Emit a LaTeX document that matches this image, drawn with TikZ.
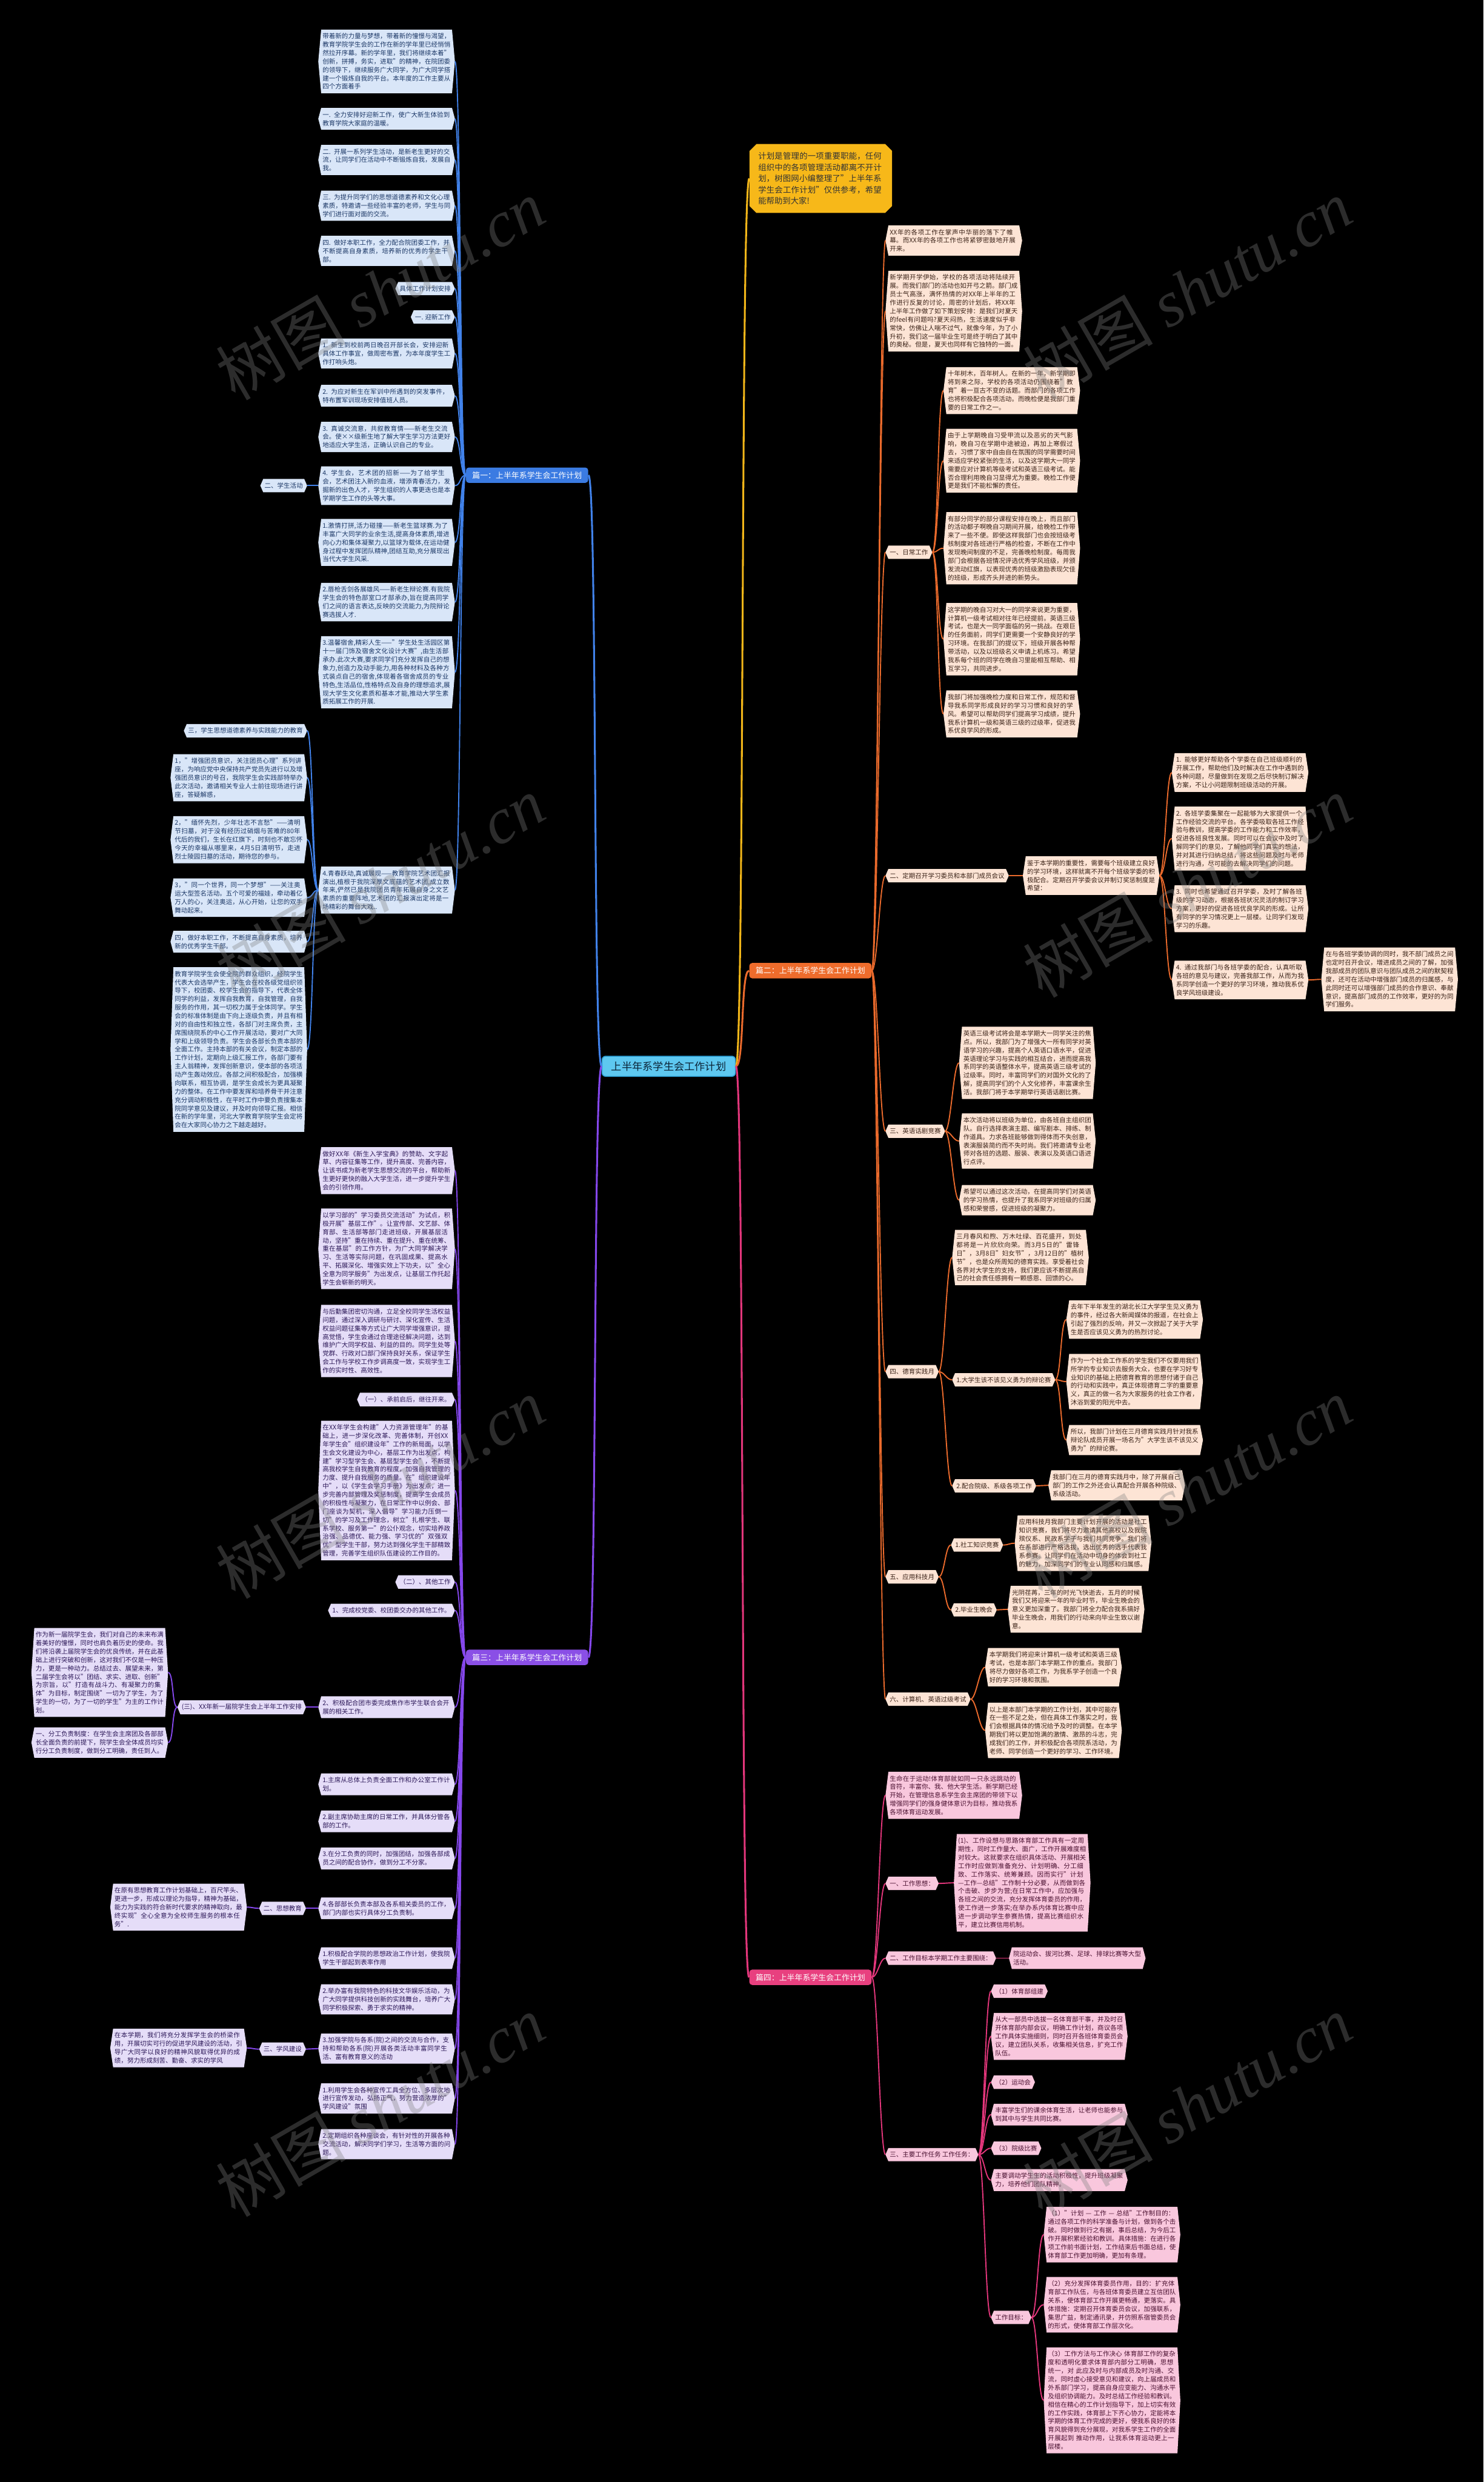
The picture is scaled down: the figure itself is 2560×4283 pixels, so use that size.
\documentclass[tikz,border=0pt]{standalone}
\usepackage{fontspec}
\setmainfont{Noto Sans CJK SC}
\newfontfamily\wmserif{Liberation Serif}
\usetikzlibrary{shapes.misc}
\XeTeXlinebreaklocale "zh"
\XeTeXlinebreakskip = 0pt plus 1pt
\definecolor{aF}{HTML}{D9E6F8}\definecolor{aT}{HTML}{1B3766}\definecolor{aL}{HTML}{4182EA}\definecolor{aB}{HTML}{3B7BE2}
\definecolor{bF}{HTML}{E5DDF8}\definecolor{bT}{HTML}{2C1858}\definecolor{bL}{HTML}{8547EC}\definecolor{bB}{HTML}{8A4FE6}
\definecolor{cF}{HTML}{FDE4D5}\definecolor{cT}{HTML}{3A2217}\definecolor{cL}{HTML}{EA6A2C}\definecolor{cB}{HTML}{EE6C2C}
\definecolor{dF}{HTML}{F9C7DD}\definecolor{dT}{HTML}{4A1030}\definecolor{dL}{HTML}{E3367B}\definecolor{dB}{HTML}{E8407F}
\definecolor{yF}{HTML}{F7B819}\definecolor{yT}{HTML}{333333}\definecolor{yL}{HTML}{F2B619}
\definecolor{kF}{HTML}{5EC8F0}\definecolor{kT}{HTML}{0B2336}\definecolor{kD}{HTML}{2B9FD6}
\makeatletter
\newdimen\hbxa \newdimen\hbxb \newdimen\hbya \newdimen\hbyb \newdimen\hbyc \newdimen\hbtip
\hbtip=2.5pt
\pgfdeclareshape{hexbox}{%
  \inheritsavedanchors[from=rectangle]%
  \inheritanchorborder[from=rectangle]%
  \inheritanchor[from=rectangle]{center}%
  \inheritanchor[from=rectangle]{north}%
  \inheritanchor[from=rectangle]{south}%
  \inheritanchor[from=rectangle]{north west}%
  \inheritanchor[from=rectangle]{north east}%
  \inheritanchor[from=rectangle]{south west}%
  \inheritanchor[from=rectangle]{south east}%
  \inheritanchor[from=rectangle]{base}%
  \inheritanchor[from=rectangle]{mid}%
  \anchor{west}{%
    \pgf@process{\northeast}\hbyb=\pgf@y
    \pgf@process{\southwest}%
    \pgf@y=.5\pgf@y \advance\pgf@y by .5\hbyb
    \advance\pgf@x by -\hbtip}%
  \anchor{east}{%
    \pgf@process{\southwest}\hbya=\pgf@y
    \pgf@process{\northeast}%
    \pgf@y=.5\pgf@y \advance\pgf@y by .5\hbya
    \advance\pgf@x by \hbtip}%
  \backgroundpath{%
    \pgf@process{\southwest}\hbxa=\pgf@x \hbya=\pgf@y
    \pgf@process{\northeast}\hbxb=\pgf@x \hbyb=\pgf@y
    \hbyc=.5\hbya \advance\hbyc by .5\hbyb
    \pgfpathmoveto{\pgfqpoint{\hbxa}{\hbya}}%
    \pgfpathlineto{\pgfqpoint{\hbxb}{\hbya}}%
    \pgfpathlineto{\pgfqpoint{\dimexpr\hbxb+\hbtip\relax}{\hbyc}}%
    \pgfpathlineto{\pgfqpoint{\hbxb}{\hbyb}}%
    \pgfpathlineto{\pgfqpoint{\hbxa}{\hbyb}}%
    \pgfpathlineto{\pgfqpoint{\dimexpr\hbxa-\hbtip\relax}{\hbyc}}%
    \pgfpathclose}%
}
\makeatother
\tikzset{
  tb/.style={shape=hexbox, inner xsep=1pt, inner ysep=3pt, font=\fontsize{5.5}{7.25}\selectfont},
  wb/.style={tb, text width=110.5pt, align=left},
  sa/.style={fill=aF, text=aT}, sb/.style={fill=bF, text=bT},
  sc/.style={fill=cF, text=cT}, sd/.style={fill=dF, text=dT},
  la/.style={draw=aL, line width=1pt}, lb/.style={draw=bL, line width=1pt},
  lc/.style={draw=cL, line width=1pt}, ld/.style={draw=dL, line width=1pt},
  br/.style={shape=rectangle, rounded corners=2.5pt, inner xsep=5.5pt, inner ysep=3.5pt, font=\fontsize{6.75}{8}\selectfont, text=white},
  wm/.style={rotate=30, text=gray, opacity=0.35, font=\fontsize{56}{60}\selectfont}
}
\newcommand\Lcon[3]{\draw[#1] (#2.west) .. controls +(-10,0) and +(10,0) .. (#3.east);}
\newcommand\Rcon[3]{\draw[#1] (#2.east) .. controls +(10,0) and +(-10,0) .. (#3.west);}
\begin{document}
\begin{tikzpicture}[x=0.5pt,y=-0.5pt]
\useasboundingbox (0,0) rectangle (2560,4283);
\fill[black] (0,0) rectangle (2560,4283);

% ---------- centre and branches ----------
\node[shape=rectangle, rounded corners=3pt, fill=kF, draw=kD, line width=0.8pt, text=kT, font=\fontsize{9}{11}\selectfont, inner xsep=8pt, inner ysep=4.5pt] (ctr) at (1154,1840) {上半年系学生会工作计划};
\node[br, fill=aB] (N1) at (909.5,820) {篇一：上半年系学生会工作计划};
\node[br, fill=bB] (N3) at (909.5,2860) {篇三：上半年系学生会工作计划};
\node[br, fill=cB] (N2) at (1398.5,1675) {篇二：上半年系学生会工作计划};
\node[br, fill=dB] (N4) at (1398.5,3412) {篇四：上半年系学生会工作计划};
\node[shape=chamfered rectangle, chamfered rectangle xsep=3pt, chamfered rectangle ysep=3pt, fill=yF, text=yT, text width=108pt, align=left, inner xsep=4.5pt, inner ysep=4pt, font=\fontsize{7}{9.75}\selectfont, anchor=west] (intro) at (1293,308) {计划是管理的一项重要职能，任何组织中的各项管理活动都离不开计划，树图网小编整理了"上半年系学生会工作计划"仅供参考，希望能帮助到大家!};

\draw[aL, line width=1.6pt] (ctr.west) .. controls +(-15,0) and +(15,0) .. (N1.east);
\draw[bL, line width=1.6pt] (ctr.west) .. controls +(-15,0) and +(15,0) .. (N3.east);
\draw[yL, line width=1.6pt] (ctr.east) .. controls +(15,0) and +(-15,0) .. (intro.west);
\draw[cL, line width=1.6pt] (ctr.east) .. controls +(15,0) and +(-15,0) .. (N2.west);
\draw[dL, line width=1.6pt] (ctr.east) .. controls +(15,0) and +(-15,0) .. (N4.west);

% ---------- section 1 ----------
\begin{scope}[every node/.append style={sa}]
\node[wb, anchor=east] (A1) at (785,106) {带着新的力量与梦想，带着新的憧憬与渴望，教育学院学生会的工作在新的学年里已经悄悄然拉开序幕。新的学年里，我们将继续本着"创新，拼搏，务实，进取"的精神，在院团委的领导下，继续服务广大同学，为广大同学搭建一个锻炼自我的平台。本年度的工作主要从四个方面着手};
\node[wb, anchor=east] (A2) at (785,205) {一. 全力安排好迎新工作，使广大新生体验到教育学院大家庭的温暖。};
\node[wb, anchor=east] (A3) at (785,276) {二. 开展一系列学生活动，是新老生更好的交流，让同学们在活动中不断锻炼自我，发展自我。};
\node[wb, anchor=east] (A4) at (785,355) {三. 为提升同学们的思想道德素养和文化心理素质，特邀请一些经验丰富的老师，学生与同学们进行面对面的交流。};
\node[wb, anchor=east] (A5) at (785,433) {四. 做好本职工作，全力配合院团委工作，并不断提高自身素质，培养新的优秀的学生干部。};
\node[tb, anchor=east] (A6) at (785,498) {具体工作计划安排};
\node[tb, anchor=east] (A7) at (785,547) {一. 迎新工作};
\node[wb, anchor=east] (A8) at (785,610) {1. 新生到校前两日晚召开部长会，安排迎新具体工作事宜，做周密布置，为本年度学生工作打响头炮。};
\node[wb, anchor=east] (A9) at (785,683) {2. 为应对新生在军训中所遇到的突发事件，特布置军训现场安排值班人员。};
\node[wb, anchor=east] (A10) at (785,754) {3. 真诚交流意，共叙教育情——新老生交流会。使××级新生地了解大学生学习方法更好地适应大学生活，正确认识自己的专业。};
\node[wb, anchor=east] (A11) at (785,838) {4. 学生会，艺术团的招新——为了给学生会，艺术团注入新的血液，增添青春活力，发掘新的出色人才，学生组织的人事更迭也是本学期学生工作的头等大事。};
\node[wb, anchor=east] (A12) at (785,936) {1.激情打拼,活力碰撞——新老生篮球赛.为了丰富广大同学的业余生活,提高身体素质,增进向心力和集体凝聚力,以篮球为载体,在运动健身过程中发挥团队精神,团结互助,充分展现出当代大学生风采.};
\node[wb, anchor=east] (A13) at (785,1039) {2.唇枪舌剑各展雄风——新老生辩论赛.有我院学生会的特色部室口才部承办,旨在提高同学们之间的语言表达,反映的交流能力,为院辩论赛选拔人才.};
\node[wb, anchor=east] (A14) at (785,1160) {3.温馨宿舍,精彩人生——"学生处生活园区第十一届门饰及宿舍文化设计大赛",由生活部承办.此次大赛,要求同学们充分发挥自己的想象力,创造力及动手能力,用各种材料及各种方式装点自己的宿舍,体现着各宿舍成员的专业特色,生活品位,性格特点及自身的理想追求,展现大学生文化素质和基本才能,推动大学生素质拓展工作的开展.};
\node[wb, anchor=east] (A15) at (785,1536) {4.青春跃动,真诚展现——教育学院艺术团汇报演出,植根于我院深厚文底蕴的艺术团,成立数年来,俨然已是我院团员青年拓展自身之文艺素质的重要阵地,艺术团的汇报演出定将是一场精彩的舞台大戏..};
\node[tb, anchor=east] (As) at (530,838) {二、学生活动};
\node[tb, anchor=east] (B1) at (530,1261) {三，学生思想道德素养与实践能力的教育};
\node[wb, anchor=east] (B2) at (530,1342) {1，"增强团员意识，关注团员心理"系列讲座，为响应党中央保持共产党员先进行以及增强团员意识的号召，我院学生会实践部特举办此次活动，邀请相关专业人士前往现场进行讲座，答疑解惑，};
\node[wb, anchor=east] (B3) at (530,1449) {2，"缅怀先烈，少年壮志不言愁"——清明节扫墓，对于没有经历过硝烟与苦难的80年代后的我们，生长在红旗下，时刻也不敢忘怀今天的幸福从哪里来，4月5日清明节，走进烈士陵园扫墓的活动，期待您的参与。};
\node[wb, anchor=east] (B4) at (530,1549) {3，"同一个世界，同一个梦想"——关注奥运大型签名活动。五个可爱的福娃，牵动着亿万人的心，关注奥运，从心开始，让您的双手舞动起来。};
\node[wb, anchor=east] (B5) at (530,1625) {四，做好本职工作，不断提高自身素质，培养新的优秀学生干部。};
\node[wb, anchor=east] (B6) at (530,1811) {教育学院学生会使全院的群众组织，经院学生代表大会选举产生，学生会在校各级党组织领导下，校团委、校学生会的指导下，代表全体同学的利益，发挥自我教育，自我管理，自我服务的作用，其一切权力属于全体同学。学生会的标准体制是由下向上逐级负责，并且有相对的自由性和独立性，各部门对主席负责，主席围绕院系的中心工作开展活动，要对广大同学和上级领导负责。学生会各部长负责本部的全面工作。主持本部的有关会议，制定本部的工作计划，定期向上级汇报工作，各部门要有主人翁精神，发挥创新意识，使本部的各项活动产生轰动效应。各部之间积极配合，加强横向联系，相互协调，是学生会成长为更具凝聚力的整体。在工作中要发挥和培养骨干并注意充分调动积极性，在平时工作中要负责搜集本院同学意见及建议，并及时向领导汇报。相信在新的学年里，河北大学教育学院学生会定将会在大家同心协力之下越走越好。};
\end{scope}
\foreach \i in {1,...,15} {\Lcon{la}{N1}{A\i}}
\Lcon{la}{A11}{As}
\foreach \i in {1,...,6} {\Lcon{la}{A15}{B\i}}

% ---------- section 3 ----------
\begin{scope}[every node/.append style={sb}]
\node[wb, anchor=east] (P1) at (785,2020) {做好XX年《新生入学宝典》的赞助、文字起草、内容征集等工作，提升高度、完善内容，让该书成为新老学生思想交流的平台，帮助新生更好更快的融入大学生活，进一步提升学生会的引领作用。};
\node[wb, anchor=east] (P2) at (785,2155) {以学习部的"学习委员交流活动"为试点，积极开展"基层工作"。让宣传部、文艺部、体育部、生活部等部门走进班级，开展基层活动，坚持"重在持续、重在提升、重在统筹、重在基层"的工作方针，为广大同学解决学习、生活等实际问题，在巩固成果、提高水平、拓展深化、增强实效上下功夫，以"全心全意为同学服务"为出发点，让基层工作托起学生会崭新的明天。};
\node[wb, anchor=east] (P3) at (785,2314) {与后勤集团密切沟通，立足全校同学生活权益问题，通过深入调研与研讨、深化宣传、生活权益问题征集等方式让广大同学增强意识，提高觉悟，学生会通过合理途径解决问题，达到维护广大同学权益、利益的目的。同学生处等党群、行政对口部门保持良好关系，保证学生会工作与学校工作步调高度一致，实现学生工作的实时性、高效性。};
\node[tb, anchor=east] (P4) at (785,2415) {（一）、承前启后，继往开来。};
\node[wb, anchor=east] (P5) at (785,2572) {在XX年学生会构建"人力资源管理年"的基础上，进一步深化改革、完善体制，开创XX年学生会"组织建设年"工作的新局面，以学生会文化建设为中心，基层工作为出发点，构建"学习型学生会、基层型学生会"，不断提高我校学生自我教育的程度，加强自我管理的力度、提升自我服务的质量。在"组织建设年中"，以《学生会学习手册》为出发点，进一步完善内部管理及奖惩制度，提高学生会成员的积极性与凝聚力，在日常工作中以例会、部门座谈为契机，深入倡导"学习能力压倒一切"的学习及工作理念，树立"扎根学生、联系学校、服务第一"的公仆观念，切实培养政治强、品德优、能力强、学习优的"双强双优"型学生干部，努力达到强化学生干部精致管理，完善学生组织队伍建设的工作目的。};
\node[tb, anchor=east] (P6) at (785,2730) {（二）、其他工作};
\node[tb, anchor=east] (P7) at (785,2779) {1、完成校党委、校团委交办的其他工作。};
\node[wb, anchor=east] (P8) at (785,2946) {2、积极配合团市委完成焦作市学生联合会开展的相关工作。};
\node[wb, anchor=east] (P9) at (785,3079) {1.主席从总体上负责全面工作和办公室工作计划。};
\node[wb, anchor=east] (P10) at (785,3143) {2.副主席协助主席的日常工作，并具体分管各部的工作。};
\node[wb, anchor=east] (P11) at (785,3207) {3.在分工负责的同时，加强团结，加强各部成员之间的配合协作，做到分工不分家。};
\node[wb, anchor=east] (P12) at (785,3293) {4.各部部长负责本部及各系相关委员的工作，部门内部也实行具体分工负责制。};
\node[wb, anchor=east] (P13) at (785,3379) {1.积极配合学院的思想政治工作计划，使我院学生干部起到表率作用};
\node[wb, anchor=east] (P14) at (785,3450) {2.举办富有我院特色的科技文华娱乐活动，为广大同学提供科技创新的实践舞台，培养广大同学积极探索、勇于求实的精神。};
\node[wb, anchor=east] (P15) at (785,3535) {3.加强学院与各系(院)之间的交流与合作，支持和帮助各系(院)开展各类活动丰富同学生活、富有教育意义的活动};
\node[wb, anchor=east] (P16) at (785,3621) {1.利用学生会各种宣传工具全方位、多层次地进行宣传发动，弘扬正气，努力营造浓厚的"学风建设"氛围};
\node[wb, anchor=east] (P17) at (785,3700) {2.定期组织各种座谈会，有针对性的开展各种交流活动，解决同学们学习，生活等方面的问题。};
\node[tb, anchor=east] (P8c) at (528,2946) {(三)、XX年新一届院学生会上半年工作安排};
\node[wb, anchor=east] (P8d) at (290,2886) {作为新一届院学生会，我们对自己的未来布满着美好的憧憬，同时也肩负着历史的使命。我们将沿袭上届院学生会的优良传统，并在此基础上进行突破和创新，这对我们不仅是一种压力，更是一种动力。总结过去、展望未来，第二届学生会将以"团结、求实、进取、创新"为宗旨，以"打造有战斗力、有凝聚力的集体"为目标，制定围绕"一切为了学生，为了学生的一切，为了一切的学生"为主的工作计划。};
\node[wb, anchor=east] (P8e) at (290,3007) {一、分工负责制度：在学生会主席团及各部部长全面负责的前提下，院学生会全体成员均实行分工负责制度，做到分工明确，责任到人。};
\node[tb, anchor=east] (P12c) at (528,3293) {二、思想教育};
\node[wb, anchor=east] (P12d) at (426,3291) {在原有思想教育工作计划基础上，百尺竿头、更进一步，形成以理论为指导，精神为基础，能力为实践的符合新时代要求的精神取向，最终实现"全心全意为全校师生服务的根本任务".};
\node[tb, anchor=east] (P15c) at (528,3536) {三、学风建设};
\node[wb, anchor=east] (P15d) at (426,3534) {在本学期，我们将充分发挥学生会的桥梁作用，开展切实可行的促进学风建设的活动，引导广大同学以良好的精神风貌取得优异的成绩，努力形成刻苦、勤奋、求实的学风};
\end{scope}
\foreach \i in {1,...,17} {\Lcon{lb}{N3}{P\i}}
\Lcon{lb}{P8}{P8c}
\Lcon{lb}{P8c}{P8d}
\Lcon{lb}{P8c}{P8e}
\Lcon{lb}{P12}{P12c}
\Lcon{lb}{P12c}{P12d}
\Lcon{lb}{P15}{P15c}
\Lcon{lb}{P15c}{P15d}

% ---------- section 2 ----------
\begin{scope}[every node/.append style={sc}]
\node[wb, anchor=west] (R1) at (1528,415) {XX年的各项工作在掌声中华丽的落下了帷幕。而XX年的各项工作也将紧锣密鼓地开展开来。};
\node[wb, anchor=west] (R2) at (1528,537) {新学期开学伊始，学校的各项活动将陆续开展。而我们部门的活动也如开弓之箭。部门成员士气高涨，满怀热情的对XX年上半年的工作进行反复的讨论，周密的计划后，将XX年上半年工作做了如下策划安排：是我们对夏天的feel有问题吗?夏天闷热，生活速度似乎非常快，仿佛让人喘不过气，就像今年，为了小升初，我们这一届毕业生可是终于明白了其中的奥秘。但是，夏天也同样有它独特的一面。};
\node[tb, anchor=west] (R3) at (1528,953) {一、日常工作};
\node[tb, anchor=west] (R4) at (1528,1511) {二、定期召开学习委员和本部门成员会议};
\node[tb, anchor=west] (R5) at (1528,1952) {三、英语话剧竞赛};
\node[tb, anchor=west] (R6) at (1528,2367) {四、德育实践月};
\node[tb, anchor=west] (R7) at (1528,2721) {五、应用科技月};
\node[tb, anchor=west] (R8) at (1528,2932) {六、计算机、英语过级考试};
\node[wb, anchor=west] (D1) at (1628,674) {十年树木，百年树人。在新的一年，新学期即将到来之际，学校的各项活动仍围绕着"教育"着一亘古不变的话题。而部门的各项工作也将积极配合各项活动。而晚检便是我部门重要的日常工作之一。};
\node[wb, anchor=west] (D2) at (1628,795) {由于上学期晚自习受甲流以及恶劣的天气影响，晚自习在学期中途被迫，再加上寒假过去，习惯了家中自由自在氛围的同学需要时间来适应学校紧张的生活，以及这学期大一同学需要应对计算机等级考试和英语三级考试。能否合理利用晚自习显得尤为重要。晚检工作便更是我们不能松懈的责任。};
\node[wb, anchor=west] (D3) at (1628,946) {有部分同学的部分课程安排在晚上，而且部门的活动都子啊晚自习期间开展，给晚检工作带来了一些不便。即使这样我部门也会按班级考核制度对各班进行严格的检查，不断在工作中发现晚间制度的不足，完善晚检制度。每周我部门会根据各班情况评选优秀学风班级，并颁发流动红旗，以表现优秀的班级激励表现欠佳的班级，形成齐头并进的新势头。};
\node[wb, anchor=west] (D4) at (1628,1103) {这学期的晚自习对大一的同学来说更为重要，计算机一级考试相对往年已经提前。英语三级考试，也是大一同学面临的另一挑战。在艰巨的任务面前，同学们更需要一个安静良好的学习环境。在我部门的提议下，班级开展各种帮带活动，以及以班级名义申请上机练习。希望我系每个班的同学在晚自习里能相互帮助、相互学习，共同进步。};
\node[wb, anchor=west] (D5) at (1628,1232) {我部门将加强晚检力度和日常工作，规范和督导我系同学形成良好的学习习惯和良好的学风。希望可以帮助同学们提高学习成绩，提升我系计算机一级和英语三级的过级率，促进我系优良学风的形成。};
\node[wb, anchor=west] (R4a) at (1765,1511) {鉴于本学期的重要性，需要每个班级建立良好的学习环境，这样就离不开每个班级学委的积极配合。定期召开学委会议并制订奖惩制度是希望：};
\node[wb, anchor=west] (G1) at (2022,1333) {1. 能够更好帮助各个学委在自己班级顺利的开展工作，帮助他们及时解决在工作中遇到的各种问题，尽量做到在发现之后尽快制订解决方案，不让小问题限制班级活动的开展。};
\node[wb, anchor=west] (G2) at (2022,1447) {2. 各班学委集聚在一起能够为大家提供一个工作经验交流的平台。各学委吸取各班工作经验与教训，提高学委的工作能力和工作效率，促进各班良性发展。同时可以在会议中及时了解同学们的意见，了解他同学们真实的想法，并对其进行归纳总结，将这些问题及时与老师进行沟通，尽可能的去解决同学们的问题。};
\node[wb, anchor=west] (G3) at (2022,1568) {3. 同时也希望通过召开学委，及时了解各班级的学习动态，根据各班状况灵活的制订学习方案，更好的促进各班优良学风的形成。让所有同学的学习情况更上一层楼。让同学们发现学习的乐趣。};
\node[wb, anchor=west] (G4) at (2022,1691) {4. 通过我部门与各班学委的配合，认真听取各班的意见与建议，完善我部工作，从而为我系同学创造一个更好的学习环境，推动我系优良学风班级建设。};
\node[wb, anchor=west] (G5) at (2280,1690) {在与各班学委协调的同时，我不部门成员之间也定时召开会议，增进成员之间的了解，加强我部成员的团队意识与团队成员之间的默契程度，还可在活动中增强部门成员的归属感，与此同时还可以增强部门成员的合作意识、奉献意识，提高部门成员的工作效率，更好的为同学们服务。};
\node[wb, anchor=west] (E1) at (1655,1834) {英语三级考试将会是本学期大一同学关注的焦点。所以，我部门为了增强大一所有同学对英语学习的兴趣，提高个人英语口语水平，促进英语理论学习与实践的相互结合，进而提高我系同学的英语整体水平，提高英语三级考试的过级率。同时，丰富同学们的对国外文化的了解，提高同学们的个人文化修养，丰富课余生活。我部门将于本学期举行英语话剧比赛。};
\node[wb, anchor=west] (E2) at (1655,1969) {本次活动将以班级为单位，由各班自主组织团队。自行选择表演主题、编写剧本、排练、制作道具。力求各班能够做到得体而不失创意，表演服装简约而不失时尚。我们将邀请专业老师对各班的选题、服装、表演以及英语口语进行点评。};
\node[wb, anchor=west] (E3) at (1655,2071) {希望可以通过这次活动，在提高同学们对英语的学习热情，也提升了我系同学对班级的归属感和荣誉感，促进班级的凝聚力。};
\node[wb, anchor=west] (M1) at (1643,2170) {三月春风和煦、万木吐绿、百花盛开，到处都将是一片欣欣向荣。而3月5日的"雷锋日"，3月8日"妇女节"，3月12日的"植树节"，也是众所周知的德育实践。享受着社会各界对大学生的支持，我们更应该不断提高自己的社会责任感拥有一颗感恩、回馈的心。};
\node[tb, anchor=west] (M2) at (1643,2381) {1.大学生该不该见义勇为的辩论赛};
\node[tb, anchor=west] (M3) at (1643,2564) {2.配合院级、系级各项工作};
\node[wb, anchor=west] (M2a) at (1840,2277) {去年下半年发生的湖北长江大学学生见义勇为的事件，经过各大新闻媒体的报道，在社会上引起了强烈的反响，并又一次掀起了关于大学生是否应该见义勇为的热烈讨论。};
\node[wb, anchor=west] (M2b) at (1840,2384) {作为一个社会工作系的学生我们不仅要用我们所学的专业知识去服务大众，也要在学习好专业知识的基础上把德育教育的思想付诸于自己的行动和实践中，真正体现德育二字的重要意义，真正的做一名为大家服务的社会工作者，沐浴到爱的阳光中去。};
\node[wb, anchor=west] (M2c) at (1840,2485) {所以，我部门计划在三月德育实践月针对我系辩论队成员开展一场名为"大学生该不该见义勇为"的辩论赛。};
\node[wb, anchor=west] (M3a) at (1809,2563) {我部门在三月的德育实践月中，除了开展自己部门的工作之外还会认真配合开展各种院级、系级活动。};
\node[tb, anchor=west] (T1) at (1641,2666) {1.社工知识竞赛};
\node[tb, anchor=west] (T2) at (1641,2778) {2.毕业生晚会};
\node[wb, anchor=west] (T1a) at (1751,2663) {应用科技月我部门主要计划开展的活动是社工知识竞赛，我们将尽力邀请其他高校以及我院殡仪系、民政系学子与我们共同竞争。我们将在系部进行严格选拔，选出优秀的选手代表我系参赛。让同学们在活动中切身的体会到社工的魅力，加深同学们的专业认同感和归属感。};
\node[wb, anchor=west] (T2a) at (1739,2777) {光阴荏苒，三年的时光飞快逝去，五月的时候我们又将迎来一年的毕业时节，毕业生晚会的意义更加深重了。我部门将全力配合我系搞好毕业生晚会，用我们的行动来向毕业生致以谢意。};
\node[wb, anchor=west] (C1) at (1700,2877) {本学期我们将迎来计算机一级考试和英语三级考试，也是本部门本学期工作的重点。我部门将尽力做好各项工作，为我系学子创造一个良好的学习环境和氛围。};
\node[wb, anchor=west] (C2) at (1700,2986) {以上是本部门本学期的工作计划，其中可能存在一些不足之处，但在具体工作落实之时，我们会根据具体的情况给予及时的调整。在本学期我们将以更加饱满的激情、激昂的斗志，完成我们的工作，并积极配合各项院系活动，为老师、同学创造一个更好的学习、工作环境。};
\end{scope}
\foreach \i in {1,...,8} {\Rcon{lc}{N2}{R\i}}
\foreach \i in {1,...,5} {\Rcon{lc}{R3}{D\i}}
\Rcon{lc}{R4}{R4a}
\foreach \i in {1,...,4} {\Rcon{lc}{R4a}{G\i}}
\Rcon{lc}{G4}{G5}
\foreach \i in {1,...,3} {\Rcon{lc}{R5}{E\i}}
\Rcon{lc}{R6}{M1}
\Rcon{lc}{R6}{M2}
\Rcon{lc}{R6}{M3}
\Rcon{lc}{M2}{M2a}
\Rcon{lc}{M2}{M2b}
\Rcon{lc}{M2}{M2c}
\Rcon{lc}{M3}{M3a}
\Rcon{lc}{R7}{T1}
\Rcon{lc}{R7}{T2}
\Rcon{lc}{T1}{T1a}
\Rcon{lc}{T2}{T2a}
\Rcon{lc}{R8}{C1}
\Rcon{lc}{R8}{C2}

% ---------- section 4 ----------
\begin{scope}[every node/.append style={sd}]
\node[wb, anchor=west] (Q0) at (1528,3098) {生命在于运动!体育部就如同一只永远跳动的音符，丰富你、我、他大学生活。新学期已经开始，在管理信息系学生会主席团的带领下以增强同学们的强身健体意识为目标，推动我系各项体育运动发展。};
\node[tb, anchor=west] (Q1) at (1528,3250) {一、工作思想：};
\node[tb, anchor=west] (Q2) at (1528,3379) {二、工作目标本学期工作主要围绕：};
\node[tb, anchor=west] (Q3) at (1528,3718) {三、主要工作任务 工作任务：};
\node[wb, anchor=west] (Q1a) at (1646,3249) {(1)、工作设想与思路体育部工作具有一定周期性，同时工作量大、面广，工作开展难度相对较大。这就要求在组织具体活动、开展相关工作时应做到准备充分、计划明确、分工细致、工作落实、统筹兼顾。因而实行"计划—工作—总结"工作制十分必要，从而做到各个击破、步步为营;在日常工作中，应加强与各班之间的交流，充分发挥体育委员的作用，使工作进一步落实;在举办系内体育比赛中应进一步调动学生参赛热情，提高比赛组织水平，建立比赛信用机制。};
\node[wb, anchor=west] (Q2a) at (1741,3379) {院运动会、拔河比赛、足球、排球比赛等大型活动。};
\node[tb, anchor=west] (Q3a) at (1710,3436) {（1）体育部组建};
\node[wb, anchor=west] (Q3b) at (1710,3514) {从大一部员中选拔一名体育部干事，并及时召开体育部内部会议，明确工作计划，商议各项工作具体实施细则，同时召开各班体育委员会议，建立团队关系，收集相关信息，扩充工作队伍。};
\node[tb, anchor=west] (Q3c) at (1710,3593) {（2）运动会};
\node[wb, anchor=west] (Q3d) at (1710,3649) {丰富学生们的课余体育生活，让老师也能参与到其中与学生共同比赛。};
\node[tb, anchor=west] (Q3e) at (1710,3707) {（3）院级比赛};
\node[wb, anchor=west] (Q3f) at (1710,3762) {主要调动学生生的活动积极性，提升班级凝聚力，培养他们团队精神。};
\node[tb, anchor=west] (Q3g) at (1710,3999) {工作目标：};
\node[wb, anchor=west] (W1) at (1801,3856) {（1）"计划 — 工作 — 总结"工作制目的：通过各项工作的科学准备与计划，做到各个击破。同时做到行之有据，事后总结，为今后工作开展积累经验和教训。具体措施：在进行各项工作前书面计划，工作结束后书面总结，使体育部工作更加明确，更加有条理。};
\node[wb, anchor=west] (W2) at (1801,3977) {（2）充分发挥体育委员作用，目的：扩充体育部工作队伍，与各班体育委员建立互信团队关系，使体育部工作开展更畅通，更落实。具体措施：定期召开体育委员会议，加强联系，集思广益，制定通讯录，并仿照系宿管委员会的形式，使体育部工作层次化。};
\node[wb, anchor=west] (W3) at (1801,4142) {（3）工作方法与工作决心 体育部工作的复杂度和透明化要求体育部内部分工明确，思想统一，对 此应及时与内部成员及时沟通、交流，同时虚心接受意见和建议，向上届成员和外系部门学习，提高自身应变能力、沟通水平及组织协调能力。及时总结工作经验和教训。相信在精心的工作计划指导下，加上切实有效的工作实践，体育部上下齐心协力，定能将本学期的体育工作完成的更好，使我系良好的体育风貌得到充分展现，对我系学生工作的全面开展起到 推动作用，让我系体育运动更上一层楼。};
\end{scope}
\foreach \i in {0,...,3} {\Rcon{ld}{N4}{Q\i}}
\Rcon{ld}{Q1}{Q1a}
\Rcon{ld}{Q2}{Q2a}
\foreach \s in {a,b,c,d,e,f,g} {\Rcon{ld}{Q3}{Q3\s}}
\foreach \i in {1,...,3} {\Rcon{ld}{Q3g}{W\i}}

% ---------- watermarks ----------
\foreach \x in {656,2049} {
  \foreach \y in {500,1530,2568,3634} {
    \node[wm] at (\x,\y) {树图 {\wmserif\itshape shutu.cn}};
  }
}
\end{tikzpicture}
\end{document}
